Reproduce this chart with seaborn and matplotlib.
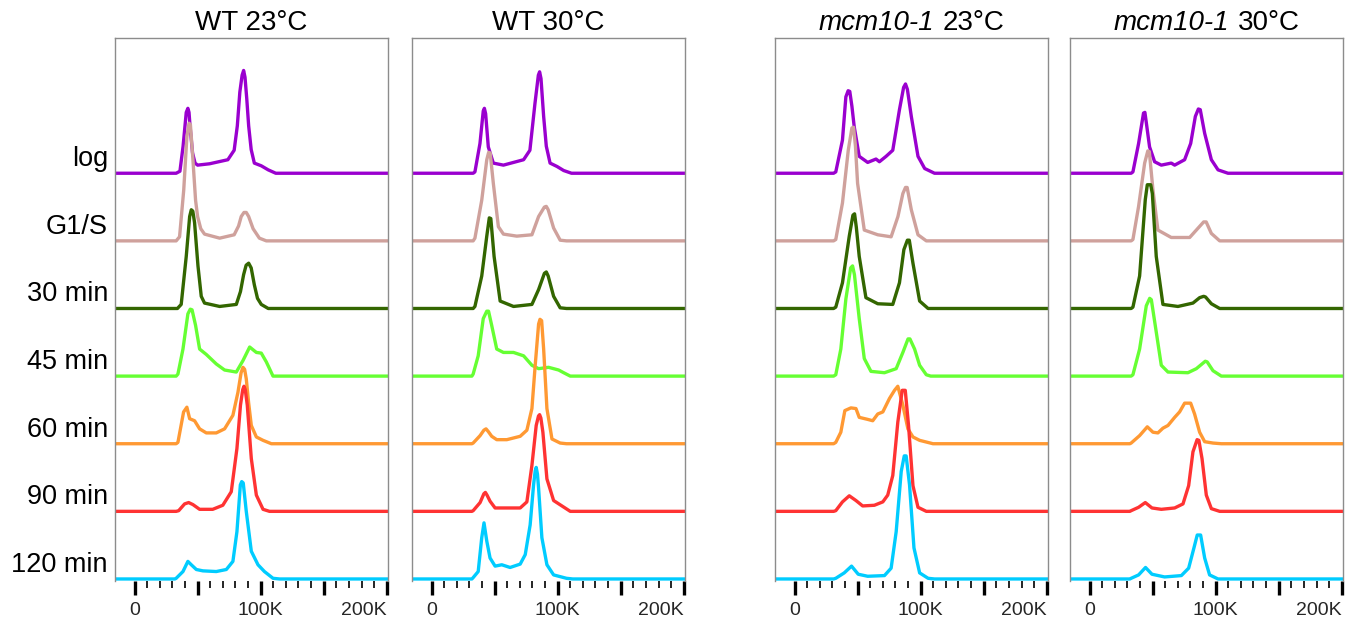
import numpy as np
import pandas as pd
import matplotlib
matplotlib.use("Agg")
import matplotlib.pyplot as plt
import seaborn as sns
from matplotlib.offsetbox import TextArea, HPacker, AnchoredOffsetbox
from matplotlib.ticker import FixedLocator, FuncFormatter

# samples from top to bottom, with the line colours
samples = ["log", "G1/S", "30 min", "45 min", "60 min", "90 min", "120 min"]
colors = ["#9A00CF", "#CFA19C", "#336600", "#66FF33", "#FF9933", "#FF3333", "#00CCFF"]

# panel titles: (italic part, plain part)
titles = [("", "WT 23°C"), ("", "WT 30°C"), ("mcm10-1", "23°C"), ("mcm10-1", "30°C")]

# DNA content (K) and height (in row spacings)
wt23_log = [(33, 0), (36, 0.03), (38.5, 0.4), (41, 0.9), (42.3, 0.96), (43.2, 0.9), (44, 0.7), (46, 0.3),
            (48, 0.15), (50, 0.12), (59.5, 0.14), (74, 0.2), (79, 0.34), (81.5, 0.7), (83.5, 1.2),
            (85.3, 1.45), (86.5, 1.52), (87.6, 1.42), (89, 1.1), (90.5, 0.7), (92.5, 0.35),
            (95, 0.15), (100.5, 0.11), (106, 0.05), (112, 0)]
wt23_g1s = [(33, 0), (35.7, 0.06), (39, 0.75), (41.5, 1.54), (43.2, 1.74), (44.3, 1.72), (46.3, 1.2),
            (48.4, 0.6), (50, 0.36), (52.5, 0.18), (55.5, 0.1), (67.5, 0.04), (79, 0.09), (82.5, 0.22),
            (84.6, 0.36), (86.8, 0.42), (88.6, 0.42), (90.5, 0.36), (94, 0.18), (99, 0.04), (104.5, 0)]
wt23_30 = [(34, 0), (37, 0.06), (41, 0.77), (43.7, 1.36), (45, 1.46), (46.2, 1.44), (47.6, 1.27),
           (50.3, 0.63), (52.9, 0.18), (55.5, 0.08), (67.5, 0.03), (80.7, 0.06), (84, 0.25), (86.5, 0.5),
           (88.5, 0.64), (90.5, 0.67), (92.5, 0.6), (95, 0.35), (97.5, 0.15), (100.5, 0.06), (106, 0)]
wt23_45 = [(33, 0), (34.4, 0.03), (38.4, 0.4), (42.3, 0.92), (44.2, 0.99), (45.6, 0.98), (48.4, 0.75),
           (51.6, 0.4), (56.9, 0.32), (64.8, 0.18), (71.4, 0.09), (80.7, 0.06), (86, 0.23), (91.3, 0.43),
           (96.6, 0.35), (100.5, 0.34), (104.5, 0.21), (109.8, 0)]
wt23_60 = [(33, 0), (34.4, 0.02), (38.9, 0.47), (41.5, 0.54), (43.7, 0.37), (47.6, 0.34), (51.6, 0.22),
           (56.9, 0.16), (64.8, 0.16), (71.4, 0.22), (78, 0.42), (82, 0.76), (84.5, 1.05), (86, 1.13),
           (87.3, 1.1), (88.6, 0.96), (90.5, 0.6), (92.6, 0.27), (96.6, 0.1), (101.9, 0.05), (108.5, 0)]
wt23_90 = [(33, 0), (35, 0.01), (39.7, 0.11), (42.9, 0.13), (46.3, 0.1), (51.6, 0.03), (62, 0.03),
           (70, 0.09), (76.7, 0.29), (81.2, 0.93), (84, 1.57), (85.8, 1.8), (86.8, 1.85), (87.8, 1.8),
           (89.4, 1.57), (92.6, 0.78), (96.6, 0.24), (101.9, 0.03), (107, 0)]
wt23_120 = [(32, 0), (33, 0.01), (38.4, 0.11), (42.3, 0.26), (45, 0.21), (49, 0.14), (54.2, 0.12),
            (64.8, 0.11), (72.8, 0.14), (78, 0.26), (81.2, 0.7), (83.9, 1.39), (85, 1.44), (86.2, 1.42),
            (88.6, 1.0), (92.6, 0.41), (97.9, 0.21), (103, 0.11), (109.8, 0.01), (115, 0)]

wt30_log = [(33, 0), (34.4, 0.02), (38.4, 0.44), (41, 0.92), (41.9, 0.96), (42.9, 0.88), (45, 0.39),
            (49, 0.15), (57, 0.12), (73, 0.2), (78, 0.34), (82, 1.03), (84.7, 1.45), (85.7, 1.5),
            (86.8, 1.4), (88.9, 0.84), (91, 0.4), (94, 0.15), (99.5, 0.1), (104.8, 0.04), (111, 0)]
wt30_g1s = [(33, 0), (34.4, 0.04), (39.8, 0.6), (43.8, 1.2), (45.3, 1.31), (46.5, 1.3), (49, 0.85),
            (53, 0.21), (57, 0.1), (67.6, 0.07), (79.6, 0.09), (84.9, 0.36), (89.5, 0.5), (91, 0.51),
            (92.5, 0.46), (96.8, 0.19), (102, 0.01), (107, 0)]
wt30_30 = [(33, 0), (34.4, 0.03), (39.8, 0.48), (43.8, 1.07), (45.8, 1.34), (47, 1.33), (49.6, 0.77),
           (54.4, 0.11), (65, 0.03), (79.6, 0.06), (84.9, 0.28), (89.5, 0.52), (91, 0.54), (92.5, 0.48),
           (96.8, 0.18), (102, 0.01), (107, 0)]
wt30_45 = [(32, 0), (33, 0.03), (37, 0.3), (41, 0.85), (43.8, 0.96), (45.2, 0.96), (47.7, 0.75),
           (51.7, 0.4), (57, 0.35), (65, 0.35), (73, 0.3), (79.6, 0.16), (84.9, 0.11), (92.8, 0.13),
           (100.8, 0.09), (104.8, 0.05), (110, 0)]
wt30_60 = [(32, 0), (33, 0.01), (38.5, 0.12), (41.5, 0.2), (43.2, 0.22), (45, 0.18), (47.7, 0.11),
           (51.7, 0.06), (59.7, 0.06), (70.3, 0.11), (75.6, 0.2), (79.6, 0.52), (82.2, 1.16),
           (84.9, 1.77), (86, 1.84), (87.3, 1.82), (88.9, 1.4), (91.5, 0.52), (95.5, 0.07), (102, 0.01),
           (107, 0)]
wt30_90 = [(32, 0), (33, 0.01), (38.5, 0.13), (41.5, 0.26), (42.7, 0.28), (44, 0.24), (46.4, 0.15),
           (50.4, 0.05), (59.7, 0.05), (70.3, 0.05), (75.6, 0.14), (79.6, 0.68), (83, 1.27), (84.8, 1.41),
           (85.7, 1.43), (86.7, 1.38), (88.3, 1.17), (91.5, 0.48), (96.8, 0.16), (103.4, 0.08), (110, 0)]
wt30_120 = [(32, 0), (33, 0.02), (37, 0.11), (39.8, 0.61), (41.6, 0.83), (43.8, 0.56), (46.4, 0.31),
            (50.4, 0.19), (55.7, 0.21), (62.3, 0.17), (70.3, 0.22), (74.3, 0.36), (78.2, 0.8),
            (80.9, 1.39), (82.2, 1.6), (83, 1.65), (84, 1.55), (84.9, 1.34), (87.5, 0.61), (91.5, 0.21),
            (96.8, 0.06), (107, 0.01), (112, 0)]

mcm23_log = [(31, 0), (32.7, 0.02), (38, 0.49), (40.7, 1.13), (42.5, 1.22), (43.8, 1.21), (45.5, 0.99),
             (47.3, 0.69), (51.3, 0.25), (58, 0.16), (64.6, 0.21), (67.3, 0.17), (72.6, 0.25), (77.9, 0.34),
             (83.2, 0.94), (86.5, 1.27), (88, 1.32), (89.5, 1.24), (92.6, 0.84), (97.9, 0.25), (103.2, 0.07),
             (111, 0)]
mcm23_g1s = [(31, 0), (32.7, 0.02), (38, 0.56), (42.6, 1.34), (45.5, 1.67), (46.8, 1.68), (48.3, 1.4),
             (50, 0.85), (55.3, 0.16), (66, 0.09), (76.6, 0.06), (82, 0.36), (85.9, 0.7), (88, 0.79),
             (89.3, 0.79), (92.6, 0.46), (97.9, 0.09), (104.5, 0)]
mcm23_30 = [(31, 0), (32.7, 0.02), (38, 0.38), (43.4, 1.07), (46.3, 1.38), (47.6, 1.4), (49, 1.2),
            (51.3, 0.77), (56.6, 0.16), (66, 0.07), (77.9, 0.06), (83.2, 0.38), (86.7, 0.87), (89.5, 1.01),
            (91, 1.01), (93.9, 0.67), (99.2, 0.11), (105.9, 0)]
mcm23_45 = [(31, 0), (32.7, 0.02), (36.7, 0.4), (40.7, 1.14), (44.5, 1.6), (46, 1.63), (47.5, 1.5),
            (51.3, 0.85), (55.3, 0.26), (60.6, 0.07), (71.3, 0.05), (80.6, 0.11), (85.9, 0.35), (90, 0.55),
            (91.5, 0.55), (95.2, 0.4), (99.2, 0.16), (104.5, 0.02), (108, 0)]
mcm23_60 = [(31, 0), (32.7, 0.02), (36.7, 0.17), (39.9, 0.49), (44.7, 0.53), (48.7, 0.52), (51.3, 0.39),
            (58, 0.36), (62, 0.34), (66, 0.44), (70, 0.47), (75.3, 0.67), (79.3, 0.79), (81.9, 0.85),
            (85.9, 0.57), (89.9, 0.22), (93.9, 0.1), (99.2, 0.05), (109.8, 0)]
mcm23_90 = [(31, 0), (32.7, 0.01), (38, 0.14), (43.4, 0.23), (48.7, 0.16), (54, 0.08), (63.3, 0.09),
            (70, 0.14), (73.9, 0.24), (77.9, 0.53), (81.9, 1.32), (85.4, 1.79), (87.8, 1.79), (90.4, 1.27),
            (93.9, 0.38), (97.9, 0.06), (104.5, 0)]
mcm23_120 = [(31, 0), (32.7, 0.01), (39.4, 0.09), (45.2, 0.19), (50.5, 0.07), (58, 0.04), (71.3, 0.05),
             (76.6, 0.16), (80.6, 0.7), (84.6, 1.59), (87, 1.82), (88.5, 1.82), (91.2, 1.39), (94.7, 0.46),
             (99.2, 0.09), (105.9, 0.01), (111, 0)]

mcm30_log = [(33, 0), (34.4, 0.02), (38.9, 0.44), (42.8, 0.89), (43.9, 0.9), (45, 0.75), (47.6, 0.39),
             (51.6, 0.17), (56.9, 0.12), (64.8, 0.15), (67.5, 0.12), (75.4, 0.2), (80.2, 0.44),
             (83.9, 0.84), (86.3, 0.95), (87.8, 0.94), (91.3, 0.59), (96.6, 0.2), (101.9, 0.05), (109.8, 0)]
mcm30_g1s = [(33, 0), (34.4, 0.02), (38.9, 0.51), (43.7, 1.15), (46.2, 1.33), (47.4, 1.32), (50.3, 0.75),
             (54.2, 0.16), (64.8, 0.05), (79.4, 0.05), (84.7, 0.16), (90.5, 0.28), (92.5, 0.28), (96.6, 0.11),
             (103.2, 0)]
mcm30_30 = [(33, 0), (34.4, 0.02), (39.7, 0.48), (44.2, 1.61), (45.8, 1.83), (48.5, 1.83), (49.8, 1.7),
            (52.9, 0.77), (58.2, 0.06), (70.1, 0.03), (82, 0.08), (87.3, 0.16), (90.5, 0.18), (92, 0.17),
            (96.6, 0.07), (103.2, 0)]
mcm30_45 = [(33, 0), (34.4, 0.02), (39.7, 0.4), (45, 1.04), (47.7, 1.15), (49, 1.13), (52.1, 0.75),
            (56.9, 0.16), (62.2, 0.06), (78, 0.05), (84.7, 0.11), (91.8, 0.22), (93.3, 0.21), (97.9, 0.08),
            (104.5, 0)]
mcm30_60 = [(32, 0), (33, 0.01), (39.7, 0.12), (45.8, 0.25), (50.3, 0.17), (54.2, 0.16), (58.2, 0.23),
            (62.2, 0.27), (67.5, 0.39), (71.4, 0.47), (75.4, 0.6), (80.2, 0.6), (83.3, 0.44), (87.3, 0.17),
            (91.3, 0.03), (97.9, 0.01), (104.5, 0)]
mcm30_90 = [(32, 0), (33, 0.01), (38.9, 0.06), (44.2, 0.13), (49.5, 0.05), (56.9, 0.03), (67.5, 0.05),
            (74.1, 0.11), (78.6, 0.38), (82, 0.88), (85.3, 1.06), (86.7, 1.05), (89.2, 0.78), (92.6, 0.24),
            (96.6, 0.04), (103.2, 0)]
mcm30_120 = [(32, 0), (33, 0.01), (38.9, 0.06), (44.4, 0.17), (49.5, 0.07), (59.5, 0.03), (72.8, 0.05),
             (78.6, 0.16), (82.8, 0.46), (85.4, 0.65), (88.1, 0.65), (91.3, 0.31), (95.2, 0.06), (101.9, 0)]

panels = [
    [wt23_log, wt23_g1s, wt23_30, wt23_45, wt23_60, wt23_90, wt23_120],
    [wt30_log, wt30_g1s, wt30_30, wt30_45, wt30_60, wt30_90, wt30_120],
    [mcm23_log, mcm23_g1s, mcm23_30, mcm23_45, mcm23_60, mcm23_90, mcm23_120],
    [mcm30_log, mcm30_g1s, mcm30_30, mcm30_45, mcm30_60, mcm30_90, mcm30_120],
]

XMIN, XMAX = -15.5, 201

sns.set_theme(style="white")
plt.rcParams["font.family"] = ["Liberation Sans", "DejaVu Sans"]

fig = plt.figure(figsize=(13.46, 6.28), dpi=100)
W, H = 1346, 628
lefts = [115, 412, 775, 1070]
bottom, top = 581, 38

palette = dict(zip(samples, colors))

for p, traces in enumerate(panels):
    ax = fig.add_axes([lefts[p] / W, 1 - bottom / H, 273 / W, (bottom - top) / H])
    rows = []
    n = len(samples)
    for i, (name, pts) in enumerate(zip(samples, traces)):
        off = n - 1 - i
        xs = [XMIN] + [q[0] for q in pts] + [XMAX + 5]
        ys = [0] + [q[1] for q in pts] + [0]
        for x, y in zip(xs, ys):
            rows.append({"sample": name, "x": x, "y": y + off})
    df = pd.DataFrame(rows)
    sns.lineplot(data=df, x="x", y="y", hue="sample", hue_order=samples, palette=palette,
                 estimator=None, sort=False, legend=False, lw=2.4, ax=ax,
                 solid_joinstyle="round", solid_capstyle="round")

    ax.set_xlim(XMIN, XMAX)
    ax.set_ylim(-0.03, 8.0)
    ax.set_xlabel("")
    ax.set_ylabel("")
    ax.set_yticks([])
    ax.xaxis.set_major_locator(FixedLocator([0, 50, 100, 150, 200]))
    ax.xaxis.set_minor_locator(FixedLocator([v for v in range(10, 200, 10) if v % 50]))
    ax.xaxis.set_major_formatter(FuncFormatter(
        lambda v, _: "0" if v == 0 else (f"{int(v)}K" if v in (100, 200) else "")))
    ax.tick_params(axis="x", which="major", direction="out", length=10, width=2.4,
                   color="black", labelsize=14, pad=5, bottom=True)
    ax.tick_params(axis="x", which="minor", direction="out", length=5, width=1.2,
                   color="black", bottom=True)
    ax.xaxis.get_majorticklabels()[-1].set_horizontalalignment("right")
    for s in ["top", "left", "right"]:
        ax.spines[s].set_color("#8c8c8c")
        ax.spines[s].set_linewidth(1.0)
    ax.spines["bottom"].set_visible(False)

    ital, plain = titles[p]
    parts = []
    if ital:
        parts.append(TextArea(ital, textprops=dict(fontsize=20, style="italic", color="black")))
    parts.append(TextArea(plain, textprops=dict(fontsize=20, color="black")))
    box = HPacker(children=parts, sep=6, pad=0, align="baseline")
    ab = AnchoredOffsetbox(loc="lower center", child=box, bbox_to_anchor=(0.5, 1.0),
                           bbox_transform=ax.transAxes, frameon=False, borderpad=0.15, pad=0)
    ax.add_artist(ab)

    if p == 0:
        for i, name in enumerate(samples):
            ax.text(-0.026, (n - 1 - i + 0.21 + 0.03) / 8.03, name, transform=ax.transAxes,
                    ha="right", va="center", fontsize=19.5, color="black")

fig.savefig("out.png", dpi=100)
